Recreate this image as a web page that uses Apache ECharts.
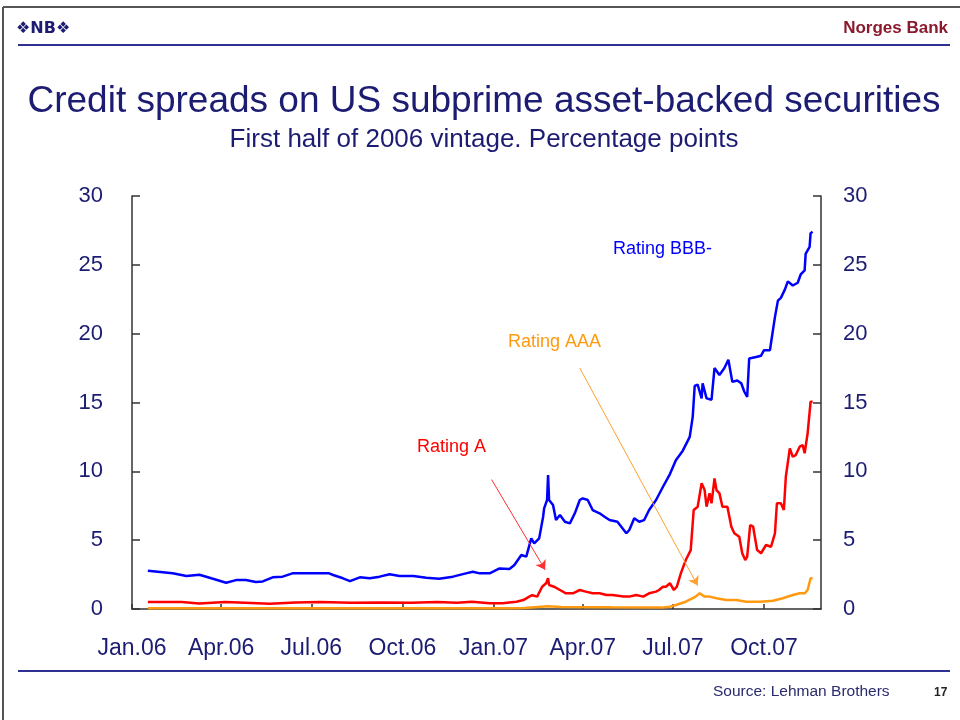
<!DOCTYPE html>
<html>
<head>
<meta charset="utf-8">
<title>Credit spreads on US subprime asset-backed securities</title>
<script src="https://cdn.jsdelivr.net/npm/echarts@6/dist/echarts.min.js"></script>
<style>
  html, body { margin: 0; padding: 0; background: #fff; }
  #chart { width: 960px; height: 720px; }
</style>
</head>
<body>
<div id="chart"></div>
<script>
// quarter ticks on the x axis
const tickDates = ['2006-01-01', '2006-04-01', '2006-07-01', '2006-10-01', '2007-01-01', '2007-04-01', '2007-07-01', '2007-10-01'];
const tickLabels = ['Jan.06', 'Apr.06', 'Jul.06', 'Oct.06', 'Jan.07', 'Apr.07', 'Jul.07', 'Oct.07'];

// Rating BBB-
const bbbDates = ['2006-01-17', '2006-02-01', '2006-02-11', '2006-02-25', '2006-03-10', '2006-03-22', '2006-04-06', '2006-04-16',
  '2006-04-26', '2006-05-06', '2006-05-13', '2006-05-23', '2006-06-02', '2006-06-12', '2006-06-22', '2006-07-06', '2006-07-19',
  '2006-07-23', '2006-08-02', '2006-08-09', '2006-08-19', '2006-08-29', '2006-09-08', '2006-09-18', '2006-09-28', '2006-10-12',
  '2006-10-25', '2006-11-07', '2006-11-21', '2006-12-04', '2006-12-11', '2006-12-18', '2006-12-28', '2007-01-07', '2007-01-17',
  '2007-01-22', '2007-01-24', '2007-01-29', '2007-02-03', '2007-02-08', '2007-02-11', '2007-02-16', '2007-02-20', '2007-02-21',
  '2007-02-24', '2007-02-25', '2007-02-26', '2007-03-02', '2007-03-05', '2007-03-09', '2007-03-14', '2007-03-19', '2007-03-24',
  '2007-03-29', '2007-04-01', '2007-04-06', '2007-04-11', '2007-04-18', '2007-04-23', '2007-04-28', '2007-05-06', '2007-05-15',
  '2007-05-18', '2007-05-23', '2007-05-28', '2007-06-02', '2007-06-07', '2007-06-14', '2007-06-21', '2007-06-28', '2007-07-04',
  '2007-07-11', '2007-07-18', '2007-07-21', '2007-07-23', '2007-07-26', '2007-07-30', '2007-07-31', '2007-08-04', '2007-08-09',
  '2007-08-12', '2007-08-17', '2007-08-22', '2007-08-26', '2007-08-30', '2007-09-04', '2007-09-08', '2007-09-11', '2007-09-14',
  '2007-09-16', '2007-09-23', '2007-09-28', '2007-10-01', '2007-10-07', '2007-10-08', '2007-10-12', '2007-10-15', '2007-10-18',
  '2007-10-22', '2007-10-25', '2007-10-30', '2007-11-04', '2007-11-07', '2007-11-11', '2007-11-12', '2007-11-16', '2007-11-17',
  '2007-11-19'];
const bbbValues = [2.78, 2.67, 2.59, 2.40, 2.49, 2.23, 1.91, 2.10,
  2.10, 1.96, 2.00, 2.30, 2.35, 2.59, 2.59, 2.59, 2.59,
  2.47, 2.23, 2.03, 2.30, 2.23, 2.35, 2.52, 2.40, 2.40,
  2.27, 2.20, 2.35, 2.59, 2.71, 2.59, 2.59, 2.95, 2.90,
  3.20, 3.32, 3.92, 3.80, 5.13, 4.77, 5.13, 6.70, 7.31,
  7.92, 9.73, 7.92, 7.55, 6.46, 6.83, 6.34, 6.22, 6.95,
  7.92, 8.04, 7.92, 7.19, 6.95, 6.70, 6.46, 6.34, 5.50,
  5.74, 6.59, 6.34, 6.46, 7.19, 7.92, 8.88, 9.80, 10.8,
  11.5, 12.5, 13.96, 16.2, 16.3, 15.3, 16.4, 15.3, 15.2,
  17.5, 17.0, 17.5, 18.1, 16.5, 16.6, 16.4, 15.8, 15.4,
  18.2, 18.3, 18.4, 18.8, 18.8, 19.3, 21.2, 22.4, 22.6,
  23.2, 23.8, 23.5, 23.7, 24.3, 24.6, 25.8, 26.3, 27.3,
  27.4];

// Rating A
const aDates = ['2006-01-17', '2006-02-20', '2006-03-10', '2006-04-05', '2006-04-25', '2006-05-20', '2006-06-15', '2006-07-10',
  '2006-08-10', '2006-09-10', '2006-10-10', '2006-11-05', '2006-11-25', '2006-12-10', '2006-12-28', '2007-01-10', '2007-01-24',
  '2007-01-31', '2007-02-06', '2007-02-09', '2007-02-14', '2007-02-19', '2007-02-23', '2007-02-25', '2007-02-26', '2007-03-03',
  '2007-03-09', '2007-03-15', '2007-03-22', '2007-03-29', '2007-04-04', '2007-04-11', '2007-04-18', '2007-04-25', '2007-05-01',
  '2007-05-12', '2007-05-18', '2007-05-25', '2007-06-01', '2007-06-07', '2007-06-14', '2007-06-17', '2007-06-21', '2007-06-24',
  '2007-06-28', '2007-07-02', '2007-07-05', '2007-07-09', '2007-07-14', '2007-07-19', '2007-07-22', '2007-07-26', '2007-07-30',
  '2007-08-02', '2007-08-04', '2007-08-07', '2007-08-09', '2007-08-12', '2007-08-14', '2007-08-17', '2007-08-20', '2007-08-25',
  '2007-08-29', '2007-09-01', '2007-09-06', '2007-09-09', '2007-09-12', '2007-09-14', '2007-09-17', '2007-09-20', '2007-09-24',
  '2007-09-28', '2007-10-03', '2007-10-08', '2007-10-12', '2007-10-14', '2007-10-18', '2007-10-21', '2007-10-23', '2007-10-27',
  '2007-10-30', '2007-11-02', '2007-11-06', '2007-11-09', '2007-11-11', '2007-11-14', '2007-11-17', '2007-11-19'];
const aValues = [0.50, 0.50, 0.40, 0.50, 0.45, 0.38, 0.48, 0.50,
  0.45, 0.48, 0.45, 0.50, 0.45, 0.52, 0.42, 0.41, 0.53,
  0.65, 0.90, 1.00, 0.90, 1.62, 1.87, 2.23, 1.74, 1.62,
  1.38, 1.14, 1.14, 1.38, 1.26, 1.14, 1.14, 1.02, 1.02,
  0.90, 0.90, 1.02, 0.90, 1.14, 1.26, 1.38, 1.62, 1.62,
  1.87, 1.38, 1.62, 2.59, 3.56, 4.28, 7.19, 7.43, 9.13,
  8.64, 7.43, 8.40, 7.68, 9.49, 8.64, 8.40, 7.43, 7.43,
  5.98, 5.50, 5.25, 4.05, 3.56, 3.80, 6.10, 5.98, 4.28,
  4.05, 4.65, 4.52, 5.50, 7.68, 7.68, 7.19, 9.61, 11.67,
  11.06, 11.18, 11.79, 11.91, 11.31, 12.76, 15.06, 15.06];

// Rating AAA
const aaaDates = ['2006-01-17', '2006-06-01', '2006-12-01', '2007-01-15', '2007-02-01', '2007-02-25', '2007-03-10', '2007-05-01',
  '2007-06-20', '2007-06-28', '2007-07-04', '2007-07-14', '2007-07-24', '2007-07-28', '2007-07-30', '2007-08-02', '2007-08-07',
  '2007-08-14', '2007-08-24', '2007-09-03', '2007-09-13', '2007-09-27', '2007-10-10', '2007-10-20', '2007-10-30', '2007-11-06',
  '2007-11-11', '2007-11-14', '2007-11-17', '2007-11-19'];
const aaaValues = [0.05, 0.05, 0.05, 0.05, 0.08, 0.20, 0.15, 0.12,
  0.10, 0.17, 0.29, 0.53, 0.90, 1.14, 1.26, 0.90, 0.90,
  0.78, 0.65, 0.65, 0.53, 0.53, 0.60, 0.78, 1.02, 1.14,
  1.14, 1.38, 2.23, 2.23];

const navy = '#1c1c72';
const ts = (d) => Date.parse(d + 'T00:00:00Z');
const zip = (d, v) => d.map((x, i) => [ts(x), v[i]]);
const tickTs = tickDates.map(ts);

const chart = echarts.init(document.getElementById('chart'));

const yAxisBase = {
  type: 'value',
  min: 0,
  max: 30,
  interval: 5,
  splitLine: { show: false },
  axisLine: { show: true, lineStyle: { color: '#333', width: 1.5 } },
  axisTick: { show: true, inside: true, length: 8, lineStyle: { color: '#333', width: 1.5 } },
  axisLabel: { color: navy, fontSize: 22, fontFamily: 'Liberation Sans' }
};

chart.setOption({
  animation: false,
  backgroundColor: '#fff',
  grid: { left: 132, right: 139, top: 196, bottom: 111 },
  xAxis: {
    type: 'value',
    min: ts('2006-01-01'),
    max: ts('2007-11-27') + 43200000,
    splitLine: { show: false },
    axisLine: { lineStyle: { color: '#333', width: 1.5 } },
    axisTick: { inside: true, length: 5, customValues: tickTs, lineStyle: { color: '#333', width: 1.5 } },
    axisLabel: {
      customValues: tickTs,
      formatter: (val) => {
        const i = tickTs.findIndex(t => Math.abs(t - val) < 86400000);
        return i >= 0 ? tickLabels[i] : '';
      },
      color: navy, fontSize: 23, fontFamily: 'Liberation Sans', margin: 28
    }
  },
  yAxis: [
    Object.assign({}, yAxisBase, { position: 'left', axisLabel: Object.assign({}, yAxisBase.axisLabel, { margin: 29 }) }),
    Object.assign({}, yAxisBase, { position: 'right', axisLabel: Object.assign({}, yAxisBase.axisLabel, { margin: 22 }) })
  ],
  series: [
    {
      name: 'Rating AAA', type: 'line', showSymbol: false, data: zip(aaaDates, aaaValues),
      lineStyle: { color: '#ff9a10', width: 2.5 }, itemStyle: { color: '#ff9a10' },
      markLine: {
        silent: true, symbol: ['none', 'arrow'], symbolSize: 9, label: { show: false },
        lineStyle: { color: '#ffa030', width: 1, type: 'solid' },
        data: [[{ coord: [ts('2007-03-29'), 17.5] }, { coord: [ts('2007-07-26'), 1.7] }]]
      }
    },
    {
      name: 'Rating A', type: 'line', showSymbol: false, data: zip(aDates, aValues),
      lineStyle: { color: '#ff0000', width: 2.5 }, itemStyle: { color: '#ff0000' },
      markLine: {
        silent: true, symbol: ['none', 'arrow'], symbolSize: 9, label: { show: false },
        lineStyle: { color: '#ff3030', width: 1, type: 'solid' },
        data: [[{ coord: [ts('2006-12-30'), 9.4] }, { coord: [ts('2007-02-22'), 2.85] }]]
      }
    },
    {
      name: 'Rating BBB-', type: 'line', showSymbol: false, data: zip(bbbDates, bbbValues),
      lineStyle: { color: '#0000ff', width: 2.5 }, itemStyle: { color: '#0000ff' }
    }
  ],
  graphic: [
    // slide frame
    { type: 'line', shape: { x1: 3, y1: 7, x2: 960, y2: 7 }, style: { stroke: '#555', lineWidth: 2 } },
    { type: 'line', shape: { x1: 3, y1: 7, x2: 3, y2: 720 }, style: { stroke: '#555', lineWidth: 2 } },
    // header
    { type: 'text', left: 16, top: 21, style: { text: '❖NB❖', fill: navy, font: 'bold 16px "DejaVu Sans"' } },
    { type: 'text', right: 12, top: 20, style: { text: 'Norges Bank', fill: '#8b1a2e', font: 'bold 17px "Liberation Sans"' } },
    { type: 'line', shape: { x1: 18, y1: 45, x2: 950, y2: 45 }, style: { stroke: '#2e3192', lineWidth: 2 } },
    // titles
    { type: 'text', x: 484, y: 102, style: { text: 'Credit spreads on US subprime asset-backed securities', fill: navy, font: '37px "Liberation Sans"', align: 'center', verticalAlign: 'middle' } },
    { type: 'text', x: 484, y: 140, style: { text: 'First half of 2006 vintage. Percentage points', fill: navy, font: '26px "Liberation Sans"', align: 'center', verticalAlign: 'middle' } },
    // series labels
    { type: 'text', x: 613, y: 249, style: { text: 'Rating BBB-', fill: '#0000ff', font: '18px "Liberation Sans"', verticalAlign: 'middle' } },
    { type: 'text', x: 508, y: 342, style: { text: 'Rating AAA', fill: '#ff9a10', font: '18px "Liberation Sans"', verticalAlign: 'middle' } },
    { type: 'text', x: 417, y: 447, style: { text: 'Rating A', fill: '#ff0000', font: '18px "Liberation Sans"', verticalAlign: 'middle' } },
    // footer
    { type: 'line', shape: { x1: 18, y1: 671, x2: 950, y2: 671 }, style: { stroke: '#2e3192', lineWidth: 2 } },
    { type: 'text', x: 713, y: 692, style: { text: 'Source: Lehman Brothers', fill: '#2a2a6e', font: '15.5px "Liberation Sans"', verticalAlign: 'middle' } },
    { type: 'text', x: 934, y: 693, style: { text: '17', fill: '#222', font: 'bold 12px "Liberation Sans"', verticalAlign: 'middle' } }
  ]
});
</script>
</body>
</html>
